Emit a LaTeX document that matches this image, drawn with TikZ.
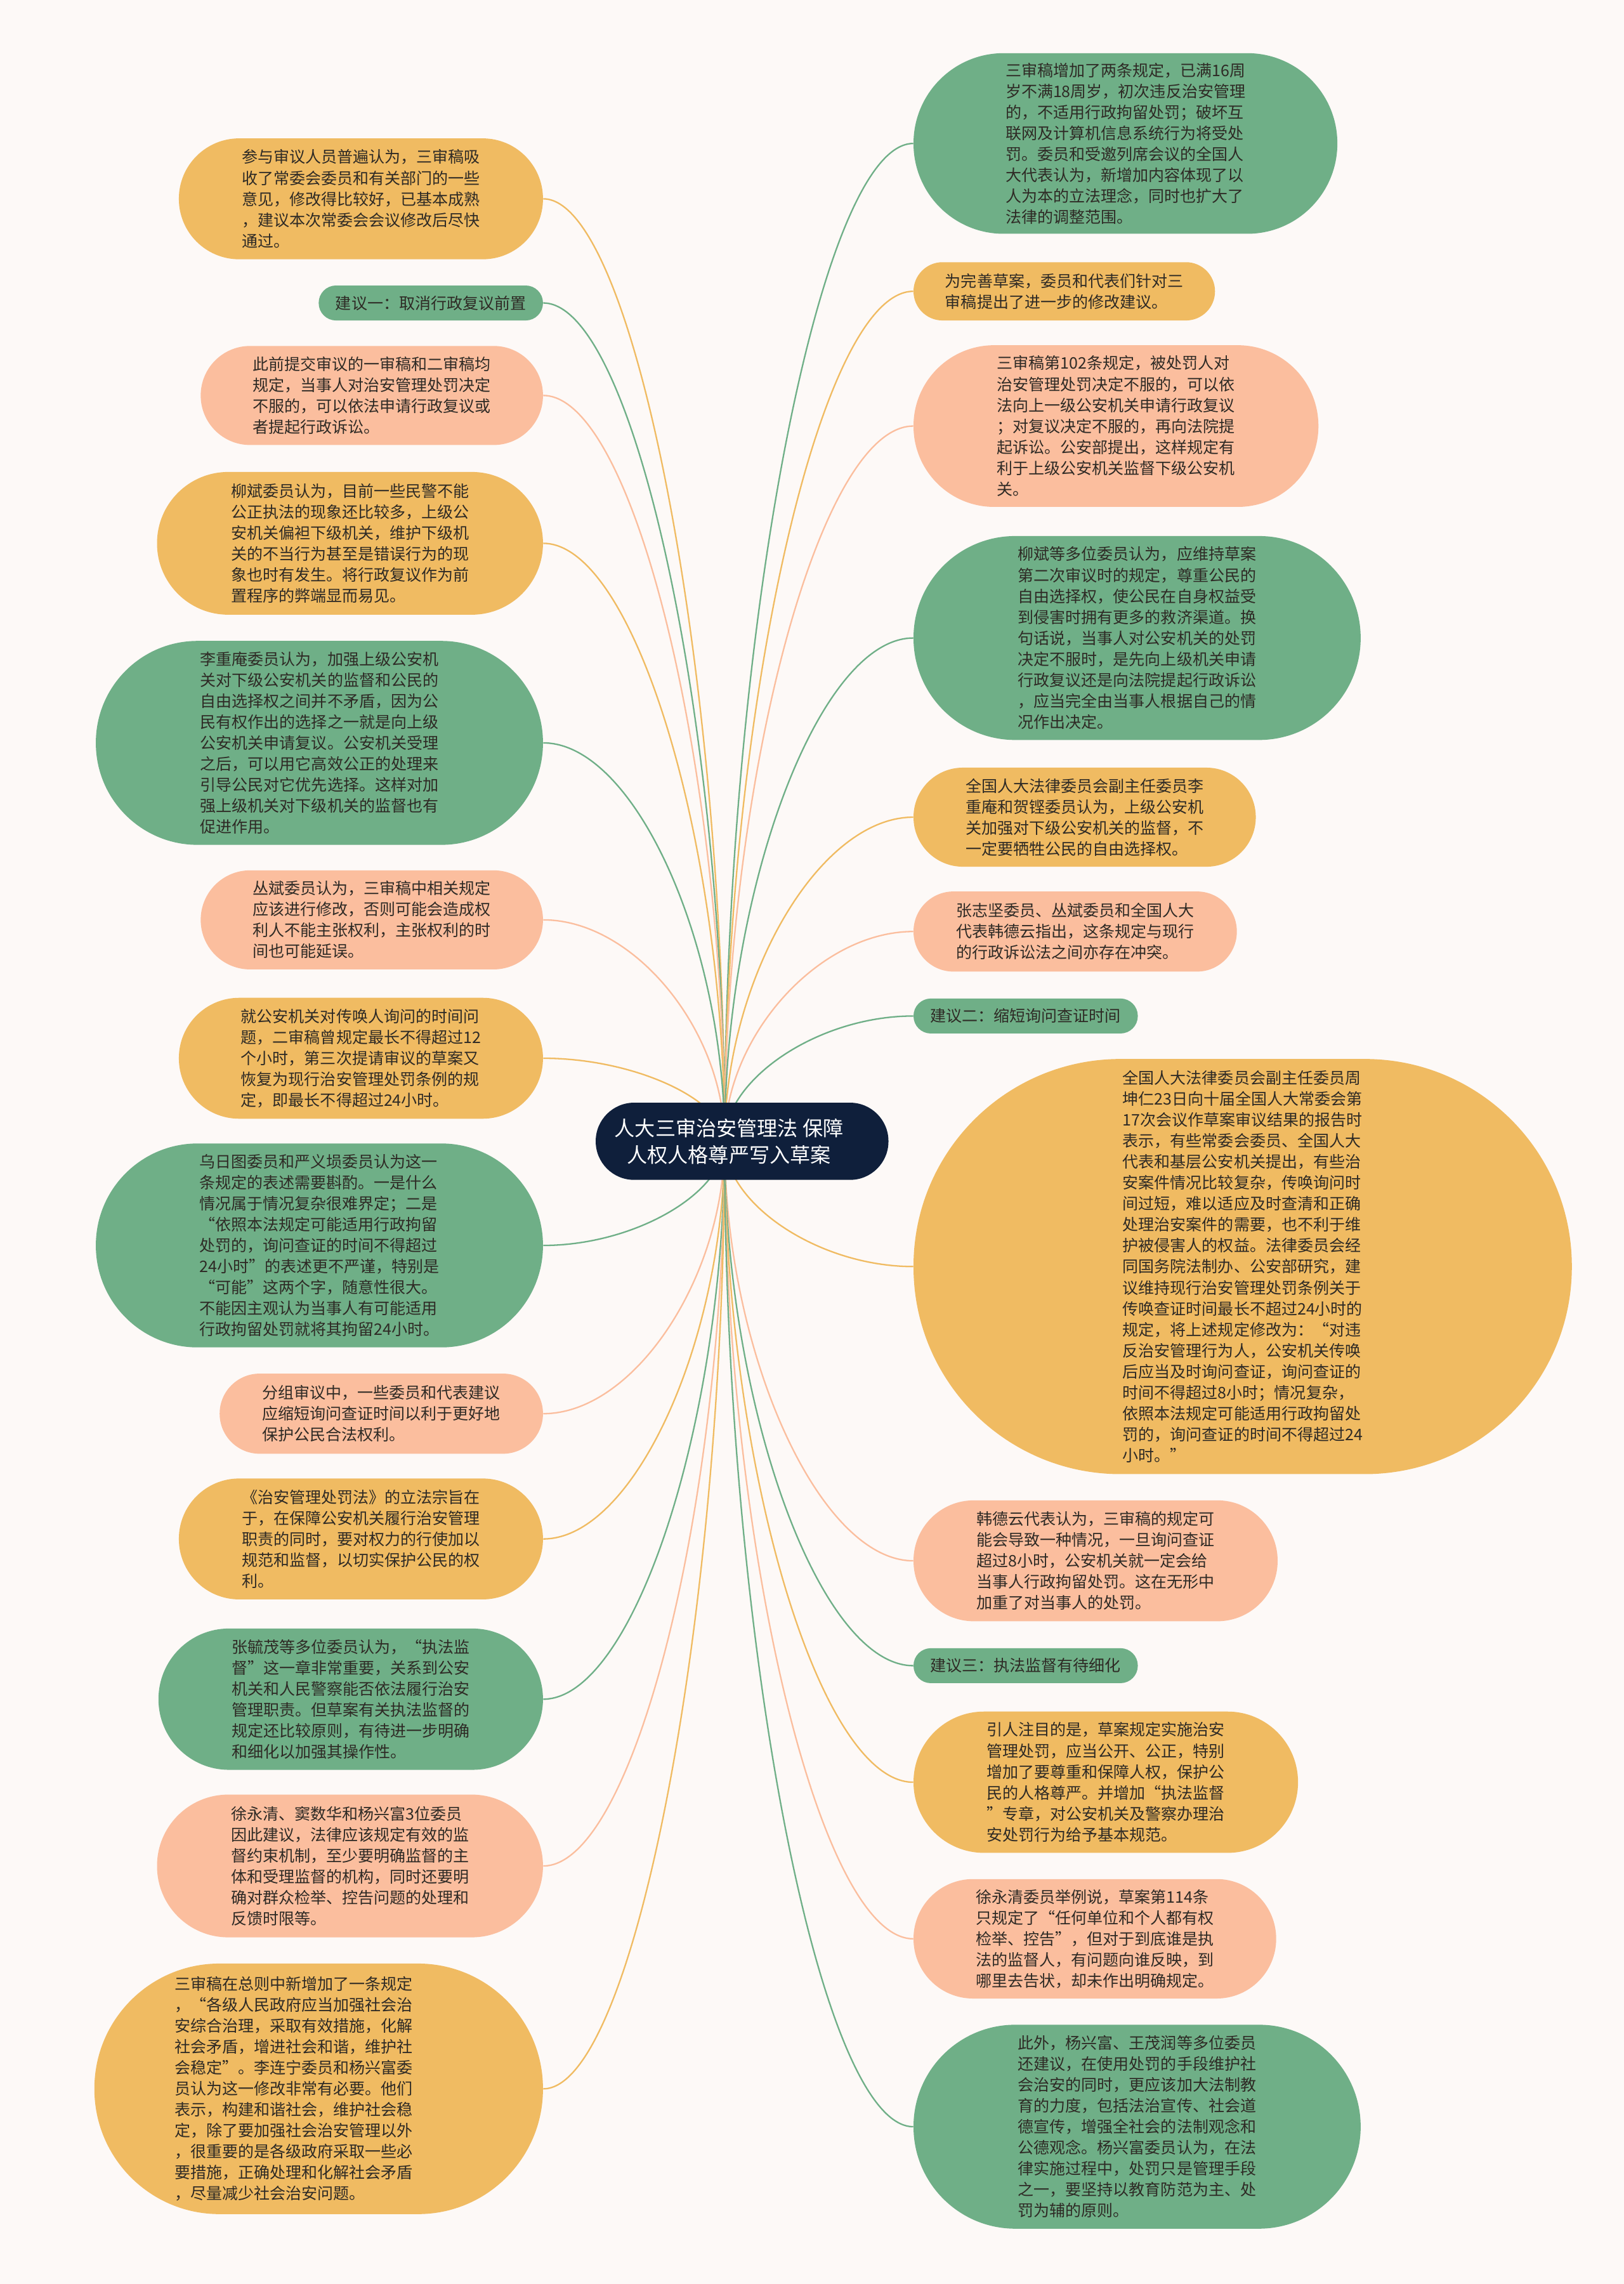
\documentclass[tikz,border=0pt]{standalone}
\usepackage{fontspec}
\setmainfont{Noto Sans CJK SC}
\usepackage{tikz}
\usetikzlibrary{calc, backgrounds}
\definecolor{paper}{HTML}{FDF9F7}
\definecolor{leafgreen}{HTML}{6FAF87}
\definecolor{leafyellow}{HTML}{F0BB62}
\definecolor{leafsalmon}{HTML}{FBBE9E}
\definecolor{rootnavy}{HTML}{0F1F3B}
\definecolor{inktext}{HTML}{2E2A25}

\begin{document}
\begin{tikzpicture}[
  x=1pt, y=-1pt,
  leaf/.style={rectangle, inner sep=0pt, align=left, text=inktext,
    font=\fontsize{10.9}{14.4}\selectfont,
    minimum height=#1, minimum width=#1+167, rounded corners=#1*0.499},
  gleaf/.style={leaf=#1, fill=leafgreen},
  yleaf/.style={leaf=#1, fill=leafyellow},
  sleaf/.style={leaf=#1, fill=leafsalmon},
  tag/.style={rectangle, inner sep=0pt, fill=leafgreen, text=inktext,
    font=\fontsize{10.9}{14.4}\selectfont,
    minimum height=24, minimum width=154, rounded corners=11.9},
  root/.style={rectangle, inner sep=0pt, fill=rootnavy, text=white, align=center,
    font=\fontsize{14}{18.3}\selectfont,
    minimum width=201, minimum height=53, rounded corners=26.4},
  link/.style={line width=1pt},
]
  \useasboundingbox (0,0) rectangle (1115,1568);

  % Root
  \node[root] (root) at (509.5,783.5) {人大三审治安管理法 保障\hspace*{18pt}\\人权人格尊严写入草案\hspace*{18pt}};
  \coordinate (hub) at ([xshift=-12pt]root.center);

  % Left branch
  \node[yleaf=83, anchor=east] (l1) at (373,136.5) {参与审议人员普遍认为，三审稿吸\\收了常委会委员和有关部门的一些\\意见，修改得比较好，已基本成熟\\，建议本次常委会会议修改后尽快\\通过。};
  \node[tag, anchor=east] (l2) at (373,208) {建议一：取消行政复议前置};
  \node[sleaf=68, anchor=east] (l3) at (373,271.5) {此前提交审议的一审稿和二审稿均\\规定，当事人对治安管理处罚决定\\不服的，可以依法申请行政复议或\\者提起行政诉讼。};
  \node[yleaf=98, anchor=east] (l4) at (373,373) {柳斌委员认为，目前一些民警不能\\公正执法的现象还比较多，上级公\\安机关偏袒下级机关，维护下级机\\关的不当行为甚至是错误行为的现\\象也时有发生。将行政复议作为前\\置程序的弊端显而易见。};
  \node[gleaf=140, anchor=east] (l5) at (373,510) {李重庵委员认为，加强上级公安机\\关对下级公安机关的监督和公民的\\自由选择权之间并不矛盾，因为公\\民有权作出的选择之一就是向上级\\公安机关申请复议。公安机关受理\\之后，可以用它高效公正的处理来\\引导公民对它优先选择。这样对加\\强上级机关对下级机关的监督也有\\促进作用。};
  \node[sleaf=68, anchor=east] (l6) at (373,631.5) {丛斌委员认为，三审稿中相关规定\\应该进行修改，否则可能会造成权\\利人不能主张权利，主张权利的时\\间也可能延误。};
  \node[yleaf=83, anchor=east] (l7) at (373,726.5) {就公安机关对传唤人询问的时间问\\题，二审稿曾规定最长不得超过12\\个小时，第三次提请审议的草案又\\恢复为现行治安管理处罚条例的规\\定，即最长不得超过24小时。};
  \node[gleaf=140, anchor=east] (l8) at (373,855) {乌日图委员和严义埙委员认为这一\\条规定的表述需要斟酌。一是什么\\情况属于情况复杂很难界定；二是\\“依照本法规定可能适用行政拘留\\处罚的，询问查证的时间不得超过\\24小时”的表述更不严谨，特别是\\“可能”这两个字，随意性很大。\\不能因主观认为当事人有可能适用\\行政拘留处罚就将其拘留24小时。};
  \node[sleaf=55, anchor=east] (l9) at (373,970.5) {分组审议中，一些委员和代表建议\\应缩短询问查证时间以利于更好地\\保护公民合法权利。};
  \node[yleaf=83, anchor=east] (l10) at (373,1056.5) {《治安管理处罚法》的立法宗旨在\\于，在保障公安机关履行治安管理\\职责的同时，要对权力的行使加以\\规范和监督，以切实保护公民的权\\利。};
  \node[gleaf=97, anchor=east] (l11) at (373,1166.5) {张毓茂等多位委员认为，“执法监\\督”这一章非常重要，关系到公安\\机关和人民警察能否依法履行治安\\管理职责。但草案有关执法监督的\\规定还比较原则，有待进一步明确\\和细化以加强其操作性。};
  \node[sleaf=98, anchor=east] (l12) at (373,1281) {徐永清、窦数华和杨兴富3位委员\\因此建议，法律应该规定有效的监\\督约束机制，至少要明确监督的主\\体和受理监督的机构，同时还要明\\确对群众检举、控告问题的处理和\\反馈时限等。};
  \node[yleaf=172, anchor=east, minimum width=308, text width=198] (l13) at (373,1434) {三审稿在总则中新增加了一条规定\\，“各级人民政府应当加强社会治\\安综合治理，采取有效措施，化解\\社会矛盾，增进社会和谐，维护社\\会稳定”。李连宁委员和杨兴富委\\员认为这一修改非常有必要。他们\\表示，构建和谐社会，维护社会稳\\定，除了要加强社会治安管理以外\\，很重要的是各级政府采取一些必\\要措施，正确处理和化解社会矛盾\\，尽量减少社会治安问题。};

  % Right branch
  \node[gleaf=124, anchor=west] (r1) at (627,98.5) {三审稿增加了两条规定，已满16周\\岁不满18周岁，初次违反治安管理\\的，不适用行政拘留处罚；破坏互\\联网及计算机信息系统行为将受处\\罚。委员和受邀列席会议的全国人\\大代表认为，新增加内容体现了以\\人为本的立法理念，同时也扩大了\\法律的调整范围。};
  \node[yleaf=40, anchor=west] (r2) at (627,200) {为完善草案，委员和代表们针对三\\审稿提出了进一步的修改建议。};
  \node[sleaf=111, anchor=west] (r3) at (627,292.5) {三审稿第102条规定，被处罚人对\\治安管理处罚决定不服的，可以依\\法向上一级公安机关申请行政复议\\；对复议决定不服的，再向法院提\\起诉讼。公安部提出，这样规定有\\利于上级公安机关监督下级公安机\\关。};
  \node[gleaf=140, anchor=west] (r4) at (627,438) {柳斌等多位委员认为，应维持草案\\第二次审议时的规定，尊重公民的\\自由选择权，使公民在自身权益受\\到侵害时拥有更多的救济渠道。换\\句话说，当事人对公安机关的处罚\\决定不服时，是先向上级机关申请\\行政复议还是向法院提起行政诉讼\\，应当完全由当事人根据自己的情\\况作出决定。};
  \node[yleaf=68, anchor=west] (r5) at (627,561) {全国人大法律委员会副主任委员李\\重庵和贺铿委员认为，上级公安机\\关加强对下级公安机关的监督，不\\一定要牺牲公民的自由选择权。};
  \node[sleaf=55, anchor=west] (r6) at (627,639.5) {张志坚委员、丛斌委员和全国人大\\代表韩德云指出，这条规定与现行\\的行政诉讼法之间亦存在冲突。};
  \node[tag, anchor=west] (r7) at (627,697.5) {建议二：缩短询问查证时间};
  \node[yleaf=285, anchor=west] (r8) at (627,869.5) {全国人大法律委员会副主任委员周\\坤仁23日向十届全国人大常委会第\\17次会议作草案审议结果的报告时\\表示，有些常委会委员、全国人大\\代表和基层公安机关提出，有些治\\安案件情况比较复杂，传唤询问时\\间过短，难以适应及时查清和正确\\处理治安案件的需要，也不利于维\\护被侵害人的权益。法律委员会经\\同国务院法制办、公安部研究，建\\议维持现行治安管理处罚条例关于\\传唤查证时间最长不超过24小时的\\规定，将上述规定修改为：“对违\\反治安管理行为人，公安机关传唤\\后应当及时询问查证，询问查证的\\时间不得超过8小时；情况复杂，\\依照本法规定可能适用行政拘留处\\罚的，询问查证的时间不得超过24\\小时。”};
  \node[sleaf=83, anchor=west] (r9) at (627,1071.5) {韩德云代表认为，三审稿的规定可\\能会导致一种情况，一旦询问查证\\超过8小时，公安机关就一定会给\\当事人行政拘留处罚。这在无形中\\加重了对当事人的处罚。};
  \node[tag, anchor=west] (r10) at (627,1143.5) {建议三：执法监督有待细化};
  \node[yleaf=97, anchor=west] (r11) at (627,1223.5) {引人注目的是，草案规定实施治安\\管理处罚，应当公开、公正，特别\\增加了要尊重和保障人权，保护公\\民的人格尊严。并增加“执法监督\\”专章，对公安机关及警察办理治\\安处罚行为给予基本规范。};
  \node[sleaf=82, anchor=west] (r12) at (627,1331) {徐永清委员举例说，草案第114条\\只规定了“任何单位和个人都有权\\检举、控告”，但对于到底谁是执\\法的监督人，有问题向谁反映，到\\哪里去告状，却未作出明确规定。};
  \node[gleaf=140, anchor=west] (r13) at (627,1460) {此外，杨兴富、王茂润等多位委员\\还建议，在使用处罚的手段维护社\\会治安的同时，更应该加大法制教\\育的力度，包括法治宣传、社会道\\德宣传，增强全社会的法制观念和\\公德观念。杨兴富委员认为，在法\\律实施过程中，处罚只是管理手段\\之一，要坚持以教育防范为主、处\\罚为辅的原则。};

  % Connectors
  \begin{scope}[on background layer]
    \fill[paper] (0,0) rectangle (1115,1568);
    \foreach \n/\c in {l1/leafyellow, l2/leafgreen, l3/leafsalmon, l4/leafyellow,
        l5/leafgreen, l6/leafsalmon, l7/leafyellow, l8/leafgreen, l9/leafsalmon,
        l10/leafyellow, l11/leafgreen, l12/leafsalmon, l13/leafyellow}
      \draw[link, \c] (hub) .. controls ($(hub)!.5!(hub |- \n.east)$) and ($(\n.east)!.5!(hub |- \n.east)$) .. (\n.east);
    \foreach \n/\c in {r1/leafgreen, r2/leafyellow, r3/leafsalmon, r4/leafgreen,
        r5/leafyellow, r6/leafsalmon, r7/leafgreen, r8/leafyellow, r9/leafsalmon,
        r10/leafgreen, r11/leafyellow, r12/leafsalmon, r13/leafgreen}
      \draw[link, \c] (hub) .. controls ($(hub)!.5!(hub |- \n.west)$) and ($(\n.west)!.5!(hub |- \n.west)$) .. (\n.west);
  \end{scope}
\end{tikzpicture}
\end{document}
